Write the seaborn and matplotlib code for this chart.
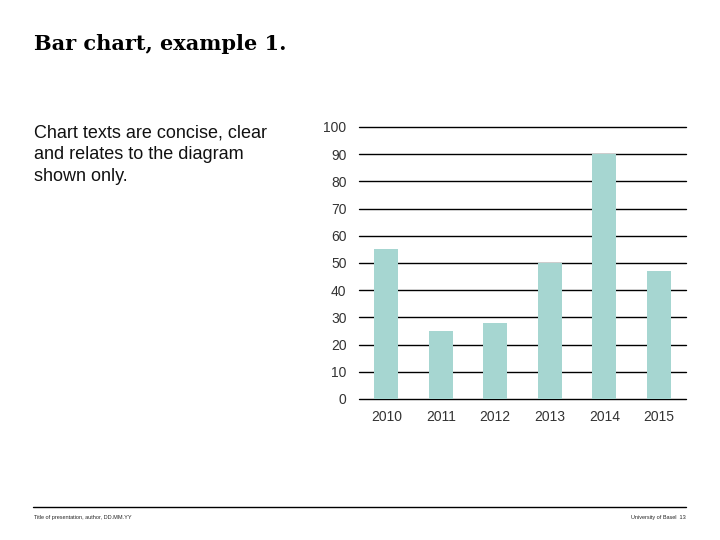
import matplotlib
matplotlib.use("Agg")
import matplotlib.pyplot as plt
import seaborn as sns
import pandas as pd
from matplotlib.lines import Line2D

years = ["2010", "2011", "2012", "2013", "2014", "2015"]
values = [55, 25, 28, 50, 90, 47]
yticks = [0, 10, 20, 30, 40, 50, 60, 70, 80, 90, 100]

sns.set_style("white")
plt.rcParams['font.family'] = ['Liberation Sans', 'DejaVu Sans']

df = pd.DataFrame({"year": years, "value": values})

fig = plt.figure(figsize=(7.2, 5.4), dpi=100)
ax = fig.add_axes([359/720, 1 - 399/540, 327/720, 272/540])

for t in yticks:
    ax.axhline(t, color="black", lw=1.0, zorder=0, clip_on=False)

sns.barplot(data=df, x="year", y="value", color="#a6d6d1", width=0.44,
            saturation=1, linewidth=0, ax=ax, zorder=2)

ax.set_ylim(0, 100)
ax.set_xlim(-0.5, 5.5)
ax.set_yticks(yticks)
ax.set_yticklabels([str(t) for t in yticks])
ax.set_xlabel("")
ax.set_ylabel("")
for s in ax.spines.values():
    s.set_visible(False)
ax.tick_params(axis="y", length=0, pad=9, labelsize=10, colors="#333333")
ax.tick_params(axis="x", length=0, pad=8, labelsize=10, colors="#333333")

fig.text(34/720, 1 - 50/540, "Bar chart, example 1.", family=["DejaVu Serif"],
         fontsize=15, fontweight="bold", ha="left", va="baseline", color="black")

fig.text(34/720, 1 - 124/540,
         "Chart texts are concise, clear\nand relates to the diagram\nshown only.",
         fontsize=13, ha="left", va="top", linespacing=1.37, color="#111111")

fig.add_artist(Line2D([33/720, 686/720], [1 - 507/540, 1 - 507/540], color="black", lw=1.0,
                      transform=fig.transFigure))
fig.text(34/720, 1 - 518/540, "Title of presentation, author, DD.MM.YY", fontsize=4,
         ha="left", va="center")
fig.text(686/720, 1 - 518/540, "University of Basel  13", fontsize=4,
         ha="right", va="center")

fig.savefig("out.png", dpi=100)
